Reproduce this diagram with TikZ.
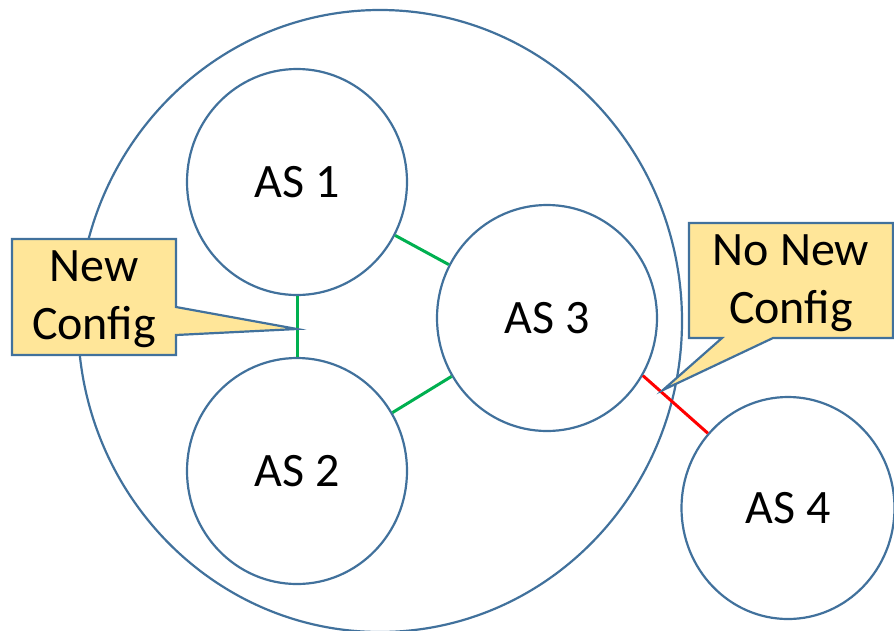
\documentclass[tikz,border=0pt]{standalone}
\usepackage{fontspec}
\setmainfont{Carlito}
\usetikzlibrary{shapes.geometric}
\definecolor{bord}{HTML}{41719C}
\definecolor{calfill}{HTML}{FFE699}
\definecolor{lgreen}{HTML}{00B050}
\definecolor{lred}{HTML}{FF0000}
\tikzset{
  asnode/.style={ellipse, draw=bord, line width=2.2pt, fill=white, minimum width=220pt, minimum height=226pt, inner sep=0pt, font=\fontsize{48}{56}\selectfont},
  callout/.style={draw=bord, line width=2.2pt, fill=calfill, line join=miter},
  caltext/.style={align=center, inner sep=0pt, font=\fontsize{48}{58}\selectfont},
  glink/.style={draw=lgreen, line width=3pt},
  rlink/.style={draw=lred, line width=3pt}
}
\begin{document}
\begin{tikzpicture}[x=1pt,y=-1pt]
\useasboundingbox (0,0) rectangle (894,630);
\node[ellipse, draw=bord, line width=2.2pt, minimum width=604pt, minimum height=622pt, inner sep=0pt] (outer) at (380,321) {};
\node[asnode] (as1) at (297,182) {AS 1};
\node[asnode] (as2) at (297,471) {AS 2};
\node[asnode] (as3) at (547,318) {AS 3};
\node[asnode, minimum width=213pt, minimum height=222pt] (as4) at (788,508) {AS 4};
\draw[glink] (as1) -- (as2);
\draw[glink] (as1) -- (as3);
\draw[glink] (as2) -- (as3);
\draw[rlink] (as3.-31) -- (as4.137);
% callout 1
\coordinate (tip1) at (297,329);
\draw[callout] (12,239) -- (176,239) -- (176,307) -- (tip1) -- (176,335) -- (176,355) -- (12,355) -- cycle;
\node[caltext] (t1) at (94,299) {New\\Config};
% callout 2
\coordinate (tip2) at (663,390);
\draw[callout] (689,223) -- (893,223) -- (893,338) -- (773,338) -- (tip2) -- (722,338) -- (689,338) -- cycle;
\node[caltext] (t2) at (791,283) {No New\\Config};
\end{tikzpicture}
\end{document}
